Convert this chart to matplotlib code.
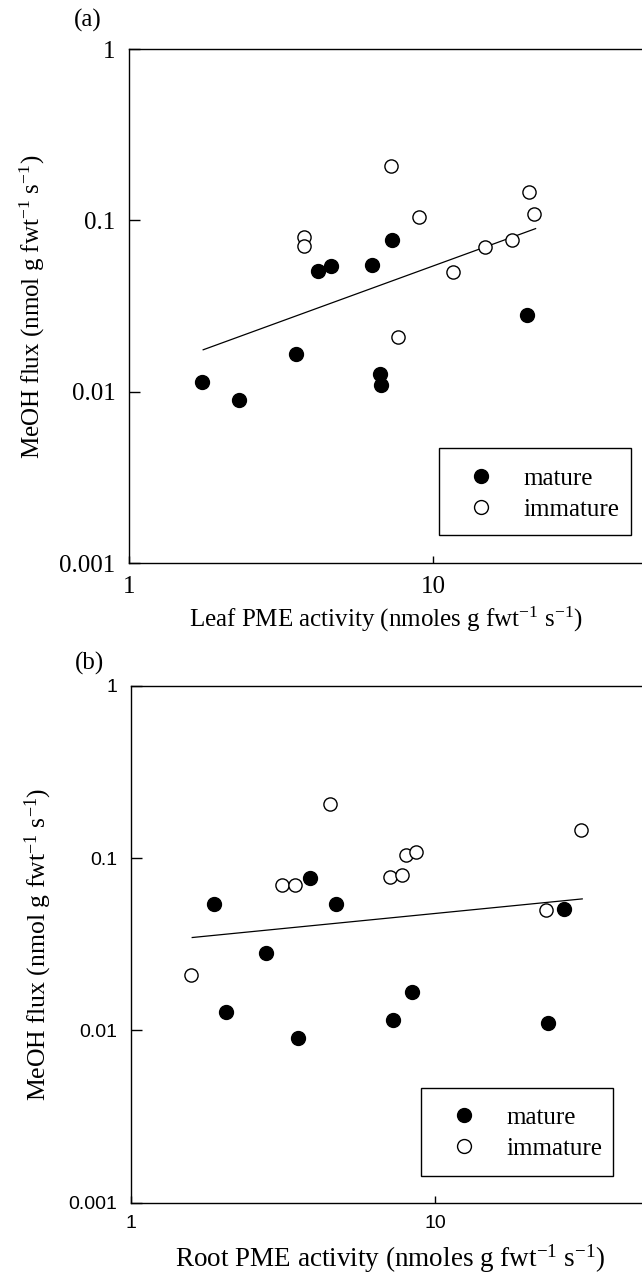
"""Two-panel log-log scatter: MeOH flux vs leaf / root PME activity."""

import matplotlib
matplotlib.use("Agg")
import matplotlib.pyplot as plt
from matplotlib.patches import Rectangle
from matplotlib.lines import Line2D
from matplotlib.ticker import FixedLocator, FixedFormatter, NullLocator

# ---- data ----
# panel (a): leaf PME activity
leaf_mature_x = [1.74, 2.30, 3.53, 4.17, 4.61, 6.27, 6.68, 6.73, 7.31, 20.3]
leaf_mature_y = [0.0114, 0.00895, 0.0167, 0.0508, 0.0543, 0.0548, 0.0127, 0.0109, 0.0767, 0.0282]
leaf_immature_x = [3.75, 3.76, 7.24, 7.64, 8.95, 11.6, 14.8, 18.2, 20.6, 21.4]
leaf_immature_y = [0.0805, 0.071, 0.207, 0.0209, 0.105, 0.0499, 0.0703, 0.0773, 0.1466, 0.109]
leaf_fit_x = [1.75, 21.7]
leaf_fit_y = [0.0176, 0.0896]

# panel (b): root PME activity
root_mature_x = [1.88, 2.06, 2.79, 3.53, 3.88, 4.72, 7.26, 8.40, 23.5, 26.6]
root_mature_y = [0.0541, 0.0127, 0.0283, 0.0090, 0.0769, 0.0545, 0.0115, 0.0168, 0.0111, 0.0510]
root_immature_x = [1.58, 3.13, 3.46, 4.52, 7.10, 7.79, 8.00, 8.66, 23.2, 30.3]
root_immature_y = [0.0211, 0.0703, 0.0703, 0.2066, 0.0776, 0.0803, 0.1045, 0.1083, 0.0501, 0.146]
root_fit_x = [1.59, 30.5]
root_fit_y = [0.0346, 0.0580]

y_ticks = [0.001, 0.01, 0.1, 1]
y_tick_labels = ["0.001", "0.01", "0.1", "1"]
x_ticks = [1, 10]
x_tick_labels = ["1", "10"]

W, H = 642, 1277
SERIF = "Liberation Serif"
SANS = "Liberation Sans"

plt.rcParams["mathtext.fontset"] = "custom"
plt.rcParams["mathtext.rm"] = SERIF
plt.rcParams["mathtext.it"] = SERIF + ":italic"
plt.rcParams["font.family"] = SERIF

fig = plt.figure(figsize=(W / 100, H / 100), dpi=100)


def px_axes(left, top, bottom, width):
    """Axes rectangle from pixel edges (may run past the right edge)."""
    return [left / W, 1 - bottom / H, width / W, (bottom - top) / H]


def draw_panel(ax, mx, my, ix, iy, fx, fy, tick_font, tick_size):
    ax.set_xscale("log")
    ax.set_yscale("log")
    ax.plot(fx, fy, color="black", lw=0.9, zorder=2)
    ax.plot(mx, my, "o", color="black", ms=10, ls="none", zorder=3, label="mature")
    ax.plot(ix, iy, "o", mfc="white", mec="black", mew=1.0, ms=9.5, ls="none",
            zorder=3, label="immature")
    ax.set_xlim(1, 100)
    ax.set_ylim(0.001, 1)
    ax.xaxis.set_major_locator(FixedLocator(x_ticks))
    ax.xaxis.set_major_formatter(FixedFormatter(x_tick_labels))
    ax.yaxis.set_major_locator(FixedLocator(y_ticks))
    ax.yaxis.set_major_formatter(FixedFormatter(y_tick_labels))
    ax.xaxis.set_minor_locator(NullLocator())
    ax.yaxis.set_minor_locator(NullLocator())
    ax.tick_params(axis="y", direction="in", length=8, width=1.0, pad=10)
    ax.tick_params(axis="x", direction="in", length=5, width=1.0, pad=9)
    for lab in ax.get_xticklabels() + ax.get_yticklabels():
        lab.set_fontfamily(tick_font)
        lab.set_fontsize(tick_size)
    for s in ax.spines.values():
        s.set_linewidth(1.0)
    ax.spines["right"].set_visible(False)


def draw_legend(ax, box, anchor):
    x0, y0, x1, y1 = box
    fig.patches.append(Rectangle((x0 / W, 1 - y1 / H), (x1 - x0) / W, (y1 - y0) / H,
                                 transform=fig.transFigure, fill=False,
                                 ec="black", lw=1.0))
    handles = [
        Line2D([], [], marker="o", color="black", ls="none", ms=10),
        Line2D([], [], marker="o", mfc="white", mec="black", mew=1.0, ls="none", ms=10),
    ]
    ax.legend(handles, ["mature", "immature"], loc="center left",
              bbox_to_anchor=(anchor[0] / W, 1 - anchor[1] / H),
              bbox_transform=fig.transFigure, frameon=False,
              prop={"family": SERIF, "size": 18}, handlelength=1.0,
              handletextpad=1.2, labelspacing=0.35, borderpad=0,
              borderaxespad=0)


unit = r" (nmol g fwt$^{-1}$ s$^{-1}$)"

# ---- panel (a) ----
ax1 = fig.add_axes(px_axes(129.3, 49, 563.3, 608))
draw_panel(ax1, leaf_mature_x, leaf_mature_y, leaf_immature_x, leaf_immature_y,
           leaf_fit_x, leaf_fit_y, SERIF, 18)
draw_legend(ax1, (439, 448, 631, 535), (468, 494))
fig.text(32 / W, 1 - 307 / H, "MeOH flux" + unit, rotation=90, ha="center",
         va="center", fontsize=18)
fig.text(386 / W, 1 - 619 / H, r"Leaf PME activity (nmoles g fwt$^{-1}$ s$^{-1}$)",
         ha="center", va="center", fontsize=18)
fig.text(88 / W, 1 - 20 / H, "(a)", ha="center", va="center", fontsize=18)

# ---- panel (b) ----
ax2 = fig.add_axes(px_axes(131, 686, 1202.5, 608))
draw_panel(ax2, root_mature_x, root_mature_y, root_immature_x, root_immature_y,
           root_fit_x, root_fit_y, SANS, 14)
draw_legend(ax2, (421, 1088, 613, 1176), (451, 1133))
fig.text(38 / W, 1 - 944 / H, "MeOH flux" + unit, rotation=90, ha="center",
         va="center", fontsize=18.5)
fig.text(390 / W, 1 - 1259 / H, r"Root PME activity (nmoles g fwt$^{-1}$ s$^{-1}$)",
         ha="center", va="center", fontsize=19.5)
fig.text(90 / W, 1 - 663 / H, "(b)", ha="center", va="center", fontsize=18)

fig.savefig("out.png", dpi=100)
